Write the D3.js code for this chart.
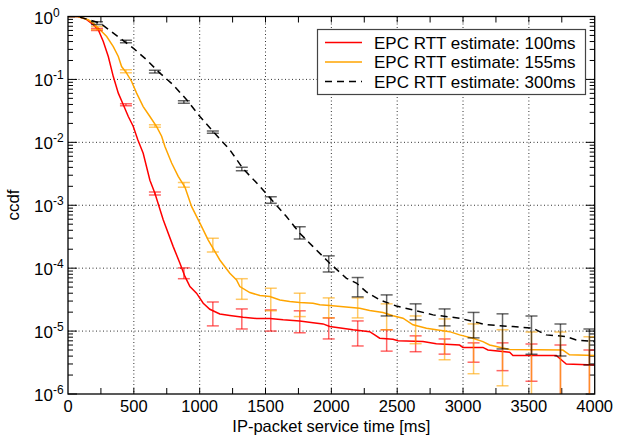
<!DOCTYPE html>
<html><head><meta charset="utf-8">
<script src="https://cdn.jsdelivr.net/npm/d3@7"></script>
<style>
html,body{margin:0;padding:0;background:#fff;}
text{font-family:"Liberation Sans",Arial,Helvetica,sans-serif;fill:#000;}
</style></head>
<body><svg id="chart" width="627" height="436"></svg>
<script>
// ---- data ----
const seriesNames = ["EPC RTT estimate: 100ms","EPC RTT estimate: 155ms","EPC RTT estimate: 300ms"];
const xTickLabels = [0,500,1000,1500,2000,2500,3000,3500,4000];
const yTickExps = [0,-1,-2,-3,-4,-5,-6];

const redLine = [[0,1],[75,1],[140,0.9],[192,0.74],[230,0.615],[268,0.40],[306,0.231],[344,0.111],[382,0.0605],[420,0.0395],[458,0.0257],[495,0.018],[530,0.011],[571,0.0067],[622,0.0025],[660,0.00155],[723,0.00059],[799,0.00022],[850,0.00012],[888,0.000074],[926,0.000051],[976,0.00004],[1027,0.0000277],[1077,0.0000222],[1153,0.0000187],[1229,0.0000177],[1330,0.0000166],[1432,0.0000158],[1533,0.0000158],[1634,0.0000151],[1760,0.0000145],[1861,0.0000136],[1937,0.000013],[1988,0.0000118],[2165,0.0000105],[2291,0.0000098],[2329,0.0000087],[2367,0.0000077],[2468,0.0000074],[2506,0.000007],[2696,0.0000068],[2797,0.0000063],[2974,0.000006],[2999,0.0000055],[3151,0.0000055],[3189,0.000005],[3354,0.0000046],[3379,0.0000041],[3708,0.0000041],[3746,0.0000035],[3784,0.000003],[4000,0.0000029]];
const orangeLine = [[0,1],[75,1],[154,0.887],[192,0.785],[243,0.615],[294,0.481],[344,0.333],[382,0.231],[407,0.160],[445,0.126],[483,0.0927],[521,0.0605],[571,0.037],[622,0.0257],[673,0.0178],[711,0.0125],[736,0.0086],[787,0.0047],[837,0.00287],[888,0.00195],[939,0.00095],[1002,0.00052],[1065,0.00028],[1153,0.000135],[1229,0.000083],[1280,0.000065],[1305,0.000051],[1381,0.000041],[1457,0.0000367],[1533,0.0000354],[1609,0.0000313],[1684,0.0000295],[1760,0.0000284],[1861,0.0000278],[1912,0.0000262],[1988,0.0000255],[2215,0.000023],[2291,0.0000212],[2392,0.0000197],[2468,0.0000175],[2544,0.000016],[2620,0.0000126],[2722,0.0000111],[2797,0.0000105],[2898,0.0000098],[2974,0.0000087],[3075,0.0000077],[3151,0.0000068],[3202,0.000006],[3354,0.0000051],[3758,0.000005],[3809,0.0000042],[4000,0.0000041]];
const blackLine = [[0,1],[75,1],[243,0.785],[395,0.454],[495,0.315],[597,0.205],[698,0.126],[799,0.082],[901,0.0474],[1002,0.0257],[1103,0.0148],[1229,0.0076],[1330,0.0038],[1457,0.002],[1546,0.00122],[1659,0.00066],[1760,0.00036],[1861,0.00022],[1963,0.000135],[1988,0.00012],[2115,0.000069],[2190,0.000058],[2266,0.000042],[2367,0.0000313],[2494,0.000025],[2620,0.0000217],[2772,0.0000181],[2974,0.000016],[3177,0.0000126],[3379,0.0000118],[3530,0.0000111],[3632,0.0000087],[3784,0.0000082],[3860,0.0000072],[4000,0.0000068]];

const barT = [220,440,660,880,1100,1320,1540,1760,1980,2200,2420,2640,2860,3080,3300,3520,3740,3960];
const redHi = [0.645,0.041,0.00162,0.000101,0.000029,0.0000225,0.0000217,0.000021,0.0000162,0.0000145,0.0000105,0.0000084,0.0000075,0.0000065,0.0000065,0.00000625,0.000006,0.000005];
const redLo = [0.60,0.038,0.00145,0.000068,0.0000121,0.0000108,0.00001,0.0000094,0.0000075,0.0000058,0.0000048,0.0000047,0.0000043,0.0000032,0.00000235,0.0000016,0,0];
const orangeHi = [0.693,0.142,0.019,0.0023,0.0003,0.000068,0.000048,0.00004,0.0000337,0.0000337,0.0000271,0.0000174,0.0000156,0.000013,0.0000105,0.0000097,0.0000097,0.0000081];
const orangeLo = [0.615,0.128,0.0173,0.00194,0.00018,0.000032,0.000021,0.000017,0.0000162,0.0000162,0.0000105,0.0000063,0.0000035,0.0000021,0.00000135,0,0,0];
const blackHi = [0.824,0.42,0.14,0.0457,0.0152,0.004,0.00137,0.000454,0.000157,0.000071,0.0000376,0.0000271,0.0000225,0.0000198,0.0000188,0.0000174,0.000013,0.0000108];
const blackLo = [0.746,0.382,0.127,0.0417,0.0139,0.00352,0.00108,0.000292,0.000087,0.000035,0.0000174,0.0000151,0.0000121,0.0000078,0.0000052,0.0000043,0.000004,0.0000029];

const colors = ["#ff0000","#ffa500","#000000"];

// ---- layout ----
const L = 68, R = 594.7, T = 16.5, B = 394;
const svg = d3.select("#chart");
const x = d3.scaleLinear().domain([0,4000]).range([L,R]);
const y = d3.scaleLog().domain([1e-6,1]).range([B,T]);

svg.append("defs").append("clipPath").attr("id","clip")
  .append("rect").attr("x",L).attr("y",T).attr("width",R-L).attr("height",B-T);

// grid
const g = svg.append("g");
g.selectAll(".vg").data([500,1000,1500,2000,2500,3000,3500]).enter().append("line")
  .attr("x1",d=>x(d)).attr("x2",d=>x(d)).attr("y1",T).attr("y2",B)
  .attr("stroke","#333").attr("stroke-width",1).attr("stroke-dasharray","1,2.5");
g.selectAll(".hg").data([-1,-2,-3,-4,-5]).enter().append("line")
  .attr("x1",L).attr("x2",R).attr("y1",d=>y(Math.pow(10,d))).attr("y2",d=>y(Math.pow(10,d)))
  .attr("stroke","#333").attr("stroke-width",1).attr("stroke-dasharray","1,2.5");

// ticks
const tk = svg.append("g").attr("stroke","#000").attr("stroke-width",1);
d3.range(250,4000,250).forEach(t=>{
  tk.append("line").attr("x1",x(t)).attr("x2",x(t)).attr("y1",B).attr("y2",B-6);
  tk.append("line").attr("x1",x(t)).attr("x2",x(t)).attr("y1",T).attr("y2",T+6);
});
for(let e=-6;e<=0;e++){
  for(let m=1;m<10;m++){
    const v=m*Math.pow(10,e);
    if(v>1) break;
    const len = m===1?9:5;
    tk.append("line").attr("x1",L).attr("x2",L+len).attr("y1",y(v)).attr("y2",y(v));
    tk.append("line").attr("x1",R).attr("x2",R-len).attr("y1",y(v)).attr("y2",y(v));
  }
}

// lines
const lineGen = d3.line().x(d=>x(d[0])).y(d=>y(d[1]));
const plot = svg.append("g").attr("clip-path","url(#clip)");
[redLine,orangeLine,blackLine].forEach((data,i)=>{
  plot.append("path").datum(data).attr("d",lineGen).attr("fill","none")
    .attr("stroke",colors[i]).attr("stroke-width",1.5)
    .attr("stroke-dasharray", i===2?"7,5":null);
});

// error bars
const bars = [[redHi,redLo],[orangeHi,orangeLo],[blackHi,blackLo]];
bars.forEach((hl,i)=>{
  const gb = plot.append("g").attr("stroke",colors[i]).attr("stroke-opacity",0.6).attr("stroke-width",1.5);
  barT.forEach((t,k)=>{
    const xc = x(t);
    const yh = y(hl[0][k]);
    const yl = hl[1][k] > 0 ? y(hl[1][k]) : B+10;
    gb.append("line").attr("x1",xc).attr("x2",xc).attr("y1",yh).attr("y2",yl);
    gb.append("line").attr("x1",xc-6).attr("x2",xc+6).attr("y1",yh).attr("y2",yh);
    gb.append("line").attr("x1",xc-6).attr("x2",xc+6).attr("y1",yl).attr("y2",yl);
  });
});

// frame
svg.append("rect").attr("x",L).attr("y",T).attr("width",R-L).attr("height",B-T)
  .attr("fill","none").attr("stroke","#000").attr("stroke-width",1.3);

// tick labels
svg.selectAll(".xl").data(xTickLabels).enter().append("text")
  .attr("x",d=>x(d)).attr("y",412).attr("text-anchor","middle")
  .attr("font-size",16.5).text(d=>d);
yTickExps.forEach(e=>{
  const yy = y(Math.pow(10,e));
  const t = svg.append("text").attr("x",34).attr("y",yy+7).attr("font-size",17);
  t.append("tspan").text("10");
  t.append("tspan").attr("font-size",12).attr("dy",-7).text(e===0?"0":"-"+(-e));
});

// axis labels
svg.append("text").attr("x",(L+R)/2).attr("y",432).attr("text-anchor","middle")
  .attr("font-size",16.5).text("IP-packet service time [ms]");
svg.append("text").attr("transform","translate(19,205) rotate(-90)")
  .attr("text-anchor","middle").attr("font-size",17).text("ccdf");

// legend
const lg = svg.append("g");
lg.append("rect").attr("x",317.5).attr("y",29.5).attr("width",268).attr("height",65)
  .attr("fill","#fff").attr("stroke","#444").attr("stroke-width",1.2);
seriesNames.forEach((n,i)=>{
  const yy = 42.5 + i*19.5;
  lg.append("line").attr("x1",325).attr("x2",362).attr("y1",yy).attr("y2",yy)
    .attr("stroke",colors[i]).attr("stroke-width",1.5).attr("stroke-dasharray",i===2?"7,5":null);
  lg.append("text").attr("x",374).attr("y",yy+6).attr("font-size",17).text(n);
});
</script></body></html>
